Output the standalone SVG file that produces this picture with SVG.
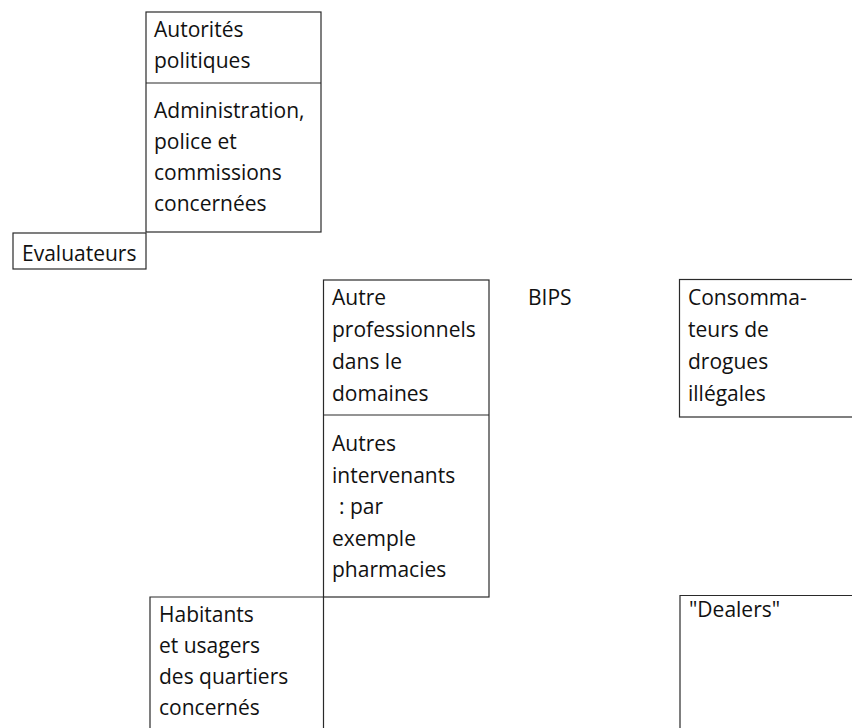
<svg xmlns="http://www.w3.org/2000/svg" width="852" height="728" viewBox="0 0 852 728">
<style>
.box{fill:none;stroke:#2a2a2a;stroke-width:1.2}
.div{stroke:#2a2a2a;stroke-width:1.2}
text{font-family:"Open Sans","Noto Sans","Liberation Sans",sans-serif;font-size:21px;fill:#111}
</style>
<rect width="852" height="728" fill="#fff"/>
<g id="autorites">
<rect class="box" x="146" y="12" width="175" height="220"/>
<line class="div" x1="146" y1="83" x2="321" y2="83"/>
<text x="154" y="37">Autorités</text>
<text x="154" y="68">politiques</text>
<text x="154" y="118">Administration,</text>
<text x="154" y="149">police et</text>
<text x="154" y="180">commissions</text>
<text x="154" y="211">concernées</text>
</g>
<g id="evaluateurs">
<rect class="box" x="13" y="233" width="133" height="36"/>
<text x="22" y="261">Evaluateurs</text>
</g>
<g id="professionnels">
<rect class="box" x="323.5" y="280" width="165.5" height="317"/>
<line class="div" x1="323.5" y1="415" x2="489" y2="415"/>
<text x="332" y="305">Autre</text>
<text x="332" y="337">professionnels</text>
<text x="332" y="369">dans le</text>
<text x="332" y="401">domaines</text>
<text x="332" y="451">Autres</text>
<text x="332" y="482.5">intervenants</text>
<text x="339" y="514">: par</text>
<text x="332" y="545.5">exemple</text>
<text x="332" y="577">pharmacies</text>
</g>
<g id="bips">
<text x="528" y="305">BIPS</text>
</g>
<g id="consommateurs">
<rect class="box" x="679.5" y="279.5" width="190" height="137.5"/>
<text x="688" y="305">Consomma-</text>
<text x="688" y="337">teurs de</text>
<text x="688" y="369">drogues</text>
<text x="688" y="401">illégales</text>
</g>
<g id="habitants">
<path class="box" d="M150,740 V597 H323.5 V740"/>
<text x="159" y="622">Habitants</text>
<text x="159" y="653">et usagers</text>
<text x="159" y="684">des quartiers</text>
<text x="159" y="715">concernés</text>
</g>
<g id="dealers">
<path class="box" d="M680,740 V595.5 H870"/>
<text x="689" y="617">"Dealers"</text>
</g>
<g id="connectors"></g>
</svg>
